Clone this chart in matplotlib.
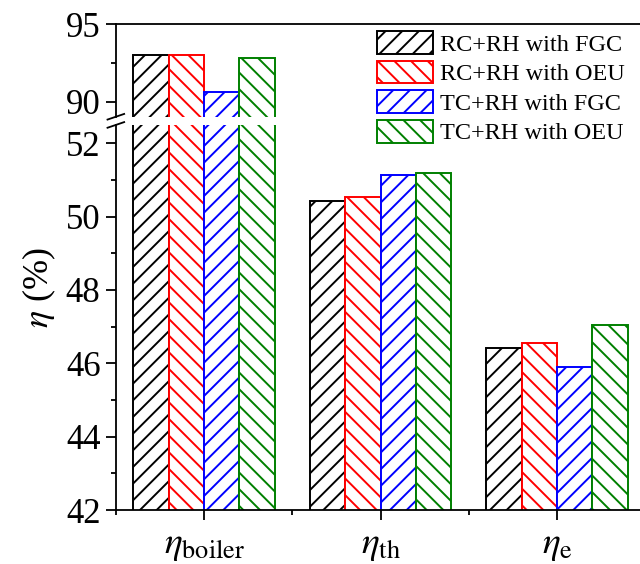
import numpy as np
import matplotlib
matplotlib.use("Agg")
import matplotlib.pyplot as plt
from matplotlib.ticker import MultipleLocator, FixedLocator

plt.rcParams["font.family"] = ["Liberation Serif", "DejaVu Serif"]
plt.rcParams["mathtext.fontset"] = "stix"
plt.rcParams["hatch.linewidth"] = 1.4

groups = [r"$\eta_{\rm boiler}$", r"$\eta_{\rm th}$", r"$\eta_{\rm e}$"]
series = ["RC+RH with FGC", "RC+RH with OEU", "TC+RH with FGC", "TC+RH with OEU"]
rc_fgc = [93.0, 50.41, 46.43]
rc_oeu = [93.0, 50.54, 46.55]
tc_fgc = [90.6, 51.14, 45.89]
tc_oeu = [92.85, 51.18, 47.05]

values = [rc_fgc, rc_oeu, tc_fgc, tc_oeu]
colors = ["black", "red", "blue", "green"]
hatches = ["//", "\\\\", "//", "\\\\"]

fig = plt.figure(figsize=(6.4, 5.64), dpi=100)
left, right = 0.181, 1.0
ax_top = fig.add_axes([left, 0.793, right - left, 0.164])
ax_bot = fig.add_axes([left, 0.0957, right - left, 0.683])

x = np.arange(len(groups))
w = 0.2
for ax in (ax_top, ax_bot):
    for i, (vals, c, h) in enumerate(zip(values, colors, hatches)):
        ax.bar(x + (i - 1.5) * w, vals, w, facecolor="white", edgecolor=c,
               hatch=h, linewidth=1.4, label=series[i] if ax is ax_top else None)
    ax.set_xlim(-0.5, 2.47)
    ax.spines["right"].set_visible(False)
    for sp in ax.spines.values():
        sp.set_linewidth(1.3)
    ax.tick_params(axis="y", which="major", direction="out", length=7,
                   width=1.3, labelsize=25, pad=4)
    ax.tick_params(axis="y", which="minor", direction="out", length=3.5, width=1.3)

ax_top.set_ylim(89.03, 95)
ax_top.yaxis.set_major_locator(FixedLocator([90, 95]))
ax_top.yaxis.set_minor_locator(FixedLocator([92.5]))
ax_top.spines["bottom"].set_visible(False)
ax_top.tick_params(axis="x", which="both", bottom=False, labelbottom=False)

ax_bot.set_ylim(42, 52.5)
ax_bot.yaxis.set_major_locator(MultipleLocator(2))
ax_bot.yaxis.set_minor_locator(MultipleLocator(1))
ax_bot.spines["top"].set_visible(False)
ax_bot.set_xticks(x)
ax_bot.set_xticklabels(groups)
ax_bot.xaxis.set_minor_locator(FixedLocator([-0.5, 0.5, 1.5, 2.5]))
ax_bot.tick_params(axis="x", which="major", direction="out", length=7,
                   width=1.3, labelsize=27, pad=6)
ax_bot.tick_params(axis="x", which="minor", direction="out", length=3.5, width=1.3)

# break marks on the left spine
for yc in (0.793, 0.7785):
    fig.add_artist(plt.Line2D([left - 0.013, left + 0.013], [yc - 0.005, yc + 0.005],
                              color="black", linewidth=1.3))

fig.text(0.062, 0.49, r"$\eta$ (%)", rotation=90, ha="center", va="center", fontsize=26)

fig.legend(loc="upper left", bbox_to_anchor=(377 / 640, 1 - 31 / 564),
           frameon=False, fontsize=17.5, handlelength=2.3, handleheight=1.07,
           labelspacing=0.2, handletextpad=0.3, borderpad=0, borderaxespad=0)

fig.savefig("out.png", dpi=100)
